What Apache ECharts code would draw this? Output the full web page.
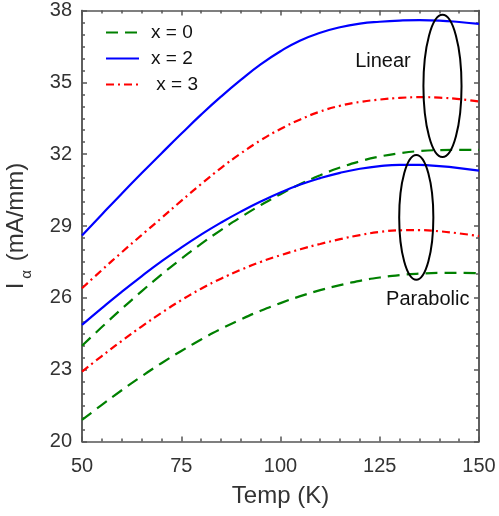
<!DOCTYPE html>
<html><head><meta charset="utf-8">
<script src="https://cdn.jsdelivr.net/npm/echarts@6/dist/echarts.min.js"></script>
<style>html,body{margin:0;padding:0;background:#fff}#c{width:499px;height:516px}</style>
</head><body><div id="c"></div>
<script>
// ---- data ----
const temps = [50,55,60,65,70,75,80,85,90,95,100,105,110,115,120,125,130,135,140,145,150];
const linearX0 = [24.0,24.78,25.54,26.27,26.97,27.63,28.25,28.83,29.37,29.87,30.33,30.75,31.12,31.44,31.7,31.9,32.04,32.13,32.17,32.18,32.18];
const linearX2 = [28.6,29.48,30.35,31.2,32.03,32.85,33.65,34.4,35.1,35.75,36.3,36.75,37.07,37.3,37.45,37.53,37.58,37.6,37.58,37.52,37.44];
const linearX3 = [26.4,27.16,27.9,28.62,29.33,30.05,30.75,31.42,32.03,32.58,33.05,33.45,33.78,34.02,34.18,34.28,34.35,34.38,34.36,34.3,34.2];
const parabolicX0 = [20.9,21.53,22.14,22.72,23.27,23.78,24.26,24.7,25.1,25.46,25.78,26.07,26.32,26.53,26.71,26.85,26.95,27.01,27.04,27.04,27.03];
const parabolicX2 = [24.87,25.57,26.25,26.9,27.52,28.1,28.64,29.14,29.6,30.02,30.4,30.73,31.0,31.22,31.39,31.5,31.55,31.55,31.5,31.42,31.31];
const parabolicX3 = [22.92,23.57,24.2,24.8,25.37,25.9,26.38,26.8,27.17,27.5,27.78,28.03,28.25,28.45,28.62,28.75,28.82,28.83,28.78,28.69,28.58];
const legendNames = ['x = 0','x = 2','x = 3'];
const xTicks = [50,75,100,125,150];
const yTicks = [20,23,26,29,32,35,38];
const groupLabels = ['Linear','Parabolic'];

// ---- styling / annotation placement (data coords) ----
const colors = ['#008000','#0000ff','#ff0000'];
const dashes = [[12,7],'solid',[8,4,2,4]];
const ellipses = [{cx:140.8,cy:34.85,rx:4.8,ry:2.97},{cx:134.2,cy:29.36,rx:4.3,ry:2.6}];
const labelPos = [[125.8,35.85],[137.1,25.95]];

const yMinor = [];
for (let v = 20; v <= 38.001; v += 0.5) yMinor.push(+v.toFixed(1));

const pairs = arr => temps.map((t,i)=>[t,arr[i]]);
const linSets = [linearX0, linearX2, linearX3];
const parSets = [parabolicX0, parabolicX2, parabolicX3];
const series = [];
for (let k = 0; k < 3; k++) {
  [linSets[k], parSets[k]].forEach(d => {
    series.push({
      type:'line', name: legendNames[k], data: pairs(d), smooth:true,
      symbol:'none', showSymbol:false, xAxisIndex:0, yAxisIndex:0,
      lineStyle:{color:colors[k], width:2.2, type:dashes[k]},
      itemStyle:{color:colors[k]}, animation:false
    });
  });
}

const axisCol = '#555';
const txtCol = '#333';
const font = 'Liberation Sans, Arial, Helvetica, sans-serif';
const mkY = (pos, vals, len, labels) => ({
  type:'value', position:pos, min:20, max:38,
  axisLine:{show:true, lineStyle:{color:axisCol, width:1.5}},
  axisTick:{show:true, inside:true, length:len, customValues:vals, lineStyle:{color:axisCol, width:1.5}},
  axisLabel: labels ? {show:true, customValues:yTicks, fontSize:20, color:txtCol, margin:10, fontFamily:font} : {show:false},
  splitLine:{show:false},
  name: labels ? '{i|I}{s|α}{n| (mA/mm)}' : '',
  nameLocation:'middle', nameGap:48, nameRotate:90,
  nameTextStyle:{fontFamily:font, color:txtCol, rich:{
    i:{fontSize:24, fontFamily:font, color:txtCol, lineHeight:30, verticalAlign:'top'},
    s:{fontSize:15, fontFamily:font, color:txtCol, lineHeight:10, verticalAlign:'bottom', padding:[0,2,0,4]},
    n:{fontSize:24, fontFamily:font, color:txtCol, lineHeight:30, verticalAlign:'top'}
  }}
});
const mkX = (pos, labels) => ({
  type:'value', position:pos, min:50, max:150, interval:25,
  axisLine:{show:true, lineStyle:{color:axisCol, width:1.5}},
  axisTick:{show:true, inside:true, length:5, lineStyle:{color:axisCol, width:1.5}},
  minorTick:{show:true, splitNumber:5, length:3, lineStyle:{color:axisCol, width:1.5}},
  axisLabel: labels ? {show:true, fontSize:20, color:txtCol, margin:15, fontFamily:font} : {show:false},
  splitLine:{show:false}, minorSplitLine:{show:false},
  name: labels ? 'Temp (K)' : '', nameLocation:'middle', nameGap:43,
  nameTextStyle:{fontSize:24, color:txtCol, fontFamily:font}
});

const chart = echarts.init(document.getElementById('c'), null, {renderer:'canvas'});
chart.setOption({
  animation:false,
  backgroundColor:'#fff',
  grid:{left:82, right:20, top:10.5, bottom:74.5, containLabel:false, outerBoundsMode:'none'},
  xAxis:[mkX('bottom', true), mkX('top', false)],
  yAxis:[mkY('left', yTicks, 5, true), mkY('left', yMinor, 3, false), mkY('right', yTicks, 5, false), mkY('right', yMinor, 3, false)],
  legend:{show:true, orient:'vertical', left:100, top:18, itemWidth:33, itemHeight:14, itemGap:7,
    data:legendNames, selectedMode:false, itemStyle:{opacity:0},
    formatter: n => n === legendNames[2] ? ' ' + n : n,
    textStyle:{fontSize:19, color:'#111', fontFamily:font, padding:[0,0,0,7]}},
  series: series
});

const px = (x,y) => chart.convertToPixel({xAxisIndex:0, yAxisIndex:0}, [x,y]);
const graphics = [];
ellipses.forEach(e => {
  const c = px(e.cx, e.cy), ex = px(e.cx + e.rx, e.cy), ey = px(e.cx, e.cy + e.ry);
  graphics.push({type:'ellipse', shape:{cx:c[0], cy:c[1], rx:Math.abs(ex[0]-c[0]), ry:Math.abs(c[1]-ey[1])},
    style:{fill:null, stroke:'#000', lineWidth:2}, z:10});
});
groupLabels.forEach((t,i) => {
  const p = px(labelPos[i][0], labelPos[i][1]);
  graphics.push({type:'text', x:p[0], y:p[1], style:{text:t, fontSize:20, fill:'#111', fontFamily:font, align:'center', verticalAlign:'middle', backgroundColor: i===1 ? '#fff' : null}, z:11});
});
chart.setOption({graphic:graphics});
</script>
</body></html>
